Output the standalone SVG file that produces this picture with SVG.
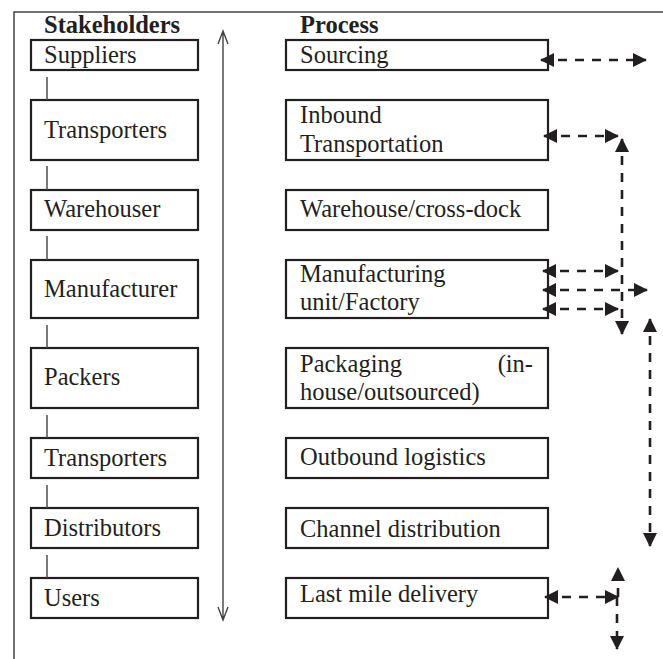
<svg xmlns="http://www.w3.org/2000/svg" width="663" height="659" viewBox="0 0 663 659">
  <style>
    .box { fill: #ffffff; stroke: #231f20; stroke-width: 2.2; }
    .lbl { font-family: "Liberation Serif", serif; font-size: 24.5px; font-weight: normal; fill: #231f20; }
    .hdr { font-family: "Liberation Serif", serif; font-size: 24.5px; font-weight: bold; fill: #231f20; }
    .frame { fill: none; stroke: #444; stroke-width: 1.5; }
    .link { fill: none; stroke: #444; stroke-width: 1.4; }
    .flow { fill: none; stroke: #231f20; stroke-width: 2.6; stroke-dasharray: 9 8; marker-start: url(#tri); marker-end: url(#tri); }
    .flow1 { fill: none; stroke: #231f20; stroke-width: 2.6; stroke-dasharray: 9 8; marker-end: url(#tri); }
  </style>
  <defs>
    <marker id="tri" viewBox="0 0 14 14" refX="13" refY="7" markerWidth="14" markerHeight="14" markerUnits="userSpaceOnUse" orient="auto-start-reverse">
      <path d="M0,0 L14,7 L0,14 z" fill="#231f20"/>
    </marker>
  </defs>

  <rect width="663" height="659" fill="#ffffff"/>

  <!-- outer frame (left and top edges) -->
  <path class="frame" d="M14,659 V12 H663"/>

  <!-- column headers -->
  <text class="hdr" x="44" y="33">Stakeholders</text>
  <text class="hdr" x="300" y="33">Process</text>

  <!-- stakeholders column -->
  <g id="suppliers"><rect class="box" x="31" y="40" width="167" height="30"/><text class="lbl" x="44" y="63">Suppliers</text></g>
  <g id="transporters-in"><rect class="box" x="31" y="100" width="167" height="60"/><text class="lbl" x="44" y="138">Transporters</text></g>
  <g id="warehouser"><rect class="box" x="31" y="190" width="167" height="40"/><text class="lbl" x="44" y="217">Warehouser</text></g>
  <g id="manufacturer"><rect class="box" x="31" y="260" width="167" height="58"/><text class="lbl" x="44" y="297">Manufacturer</text></g>
  <g id="packers"><rect class="box" x="31" y="348" width="167" height="60"/><text class="lbl" x="44" y="385">Packers</text></g>
  <g id="transporters-out"><rect class="box" x="31" y="438" width="167" height="40"/><text class="lbl" x="44" y="466">Transporters</text></g>
  <g id="distributors"><rect class="box" x="31" y="508" width="167" height="40"/><text class="lbl" x="44" y="536">Distributors</text></g>
  <g id="users"><rect class="box" x="31" y="578" width="167" height="40"/><text class="lbl" x="44" y="606">Users</text></g>

  <!-- process column -->
  <g id="sourcing"><rect class="box" x="286" y="40" width="262" height="30"/><text class="lbl" x="300" y="63">Sourcing</text></g>
  <g id="inbound"><rect class="box" x="286" y="100" width="262" height="60"/><text class="lbl" x="300" y="123">Inbound</text><text class="lbl" x="300" y="152">Transportation</text></g>
  <g id="warehouse"><rect class="box" x="286" y="190" width="262" height="40"/><text class="lbl" x="300" y="217">Warehouse/cross-dock</text></g>
  <g id="manufacturing"><rect class="box" x="286" y="260" width="262" height="58"/><text class="lbl" x="300" y="282">Manufacturing</text><text class="lbl" x="300" y="310">unit/Factory</text></g>
  <g id="packaging"><rect class="box" x="286" y="348" width="262" height="60"/><text class="lbl" x="300" y="372">Packaging</text><text class="lbl" x="533" y="372" text-anchor="end">(in-</text><text class="lbl" x="300" y="400">house/outsourced)</text></g>
  <g id="outbound"><rect class="box" x="286" y="438" width="262" height="40"/><text class="lbl" x="300" y="465">Outbound logistics</text></g>
  <g id="channel"><rect class="box" x="286" y="508" width="262" height="40"/><text class="lbl" x="300" y="537">Channel distribution</text></g>
  <g id="lastmile"><rect class="box" x="286" y="578" width="262" height="40"/><text class="lbl" x="300" y="602">Last mile delivery</text></g>

  <g id="connectors">
    <!-- stakeholder chain -->
    <path class="link" d="M47,77 V100 M47,166 V190 M47,236 V260 M47,325 V348 M47,415 V438 M47,485 V508 M47,555 V578"/>
    <!-- two-way vertical arrow between columns -->
    <path class="link" d="M223,31 V620 M218,44 L223,31 L228,44 M218,607 L223,620 L228,607"/>
    <!-- dashed flows -->
    <path class="flow" d="M541,60 H646"/>
    <path class="flow" d="M544,136 H618"/>
    <path class="flow" d="M622,139 V334"/>
    <path class="flow" d="M543,271 H618"/>
    <path class="flow" d="M543,290 H647"/>
    <path class="flow" d="M543,309 H618"/>
    <path class="flow" d="M650,319 V546"/>
    <path class="flow" d="M545,597 H618"/>
    <path class="flow1" d="M618,597 V568"/>
    <path class="flow1" d="M617,597 V649"/>
  </g>
</svg>
